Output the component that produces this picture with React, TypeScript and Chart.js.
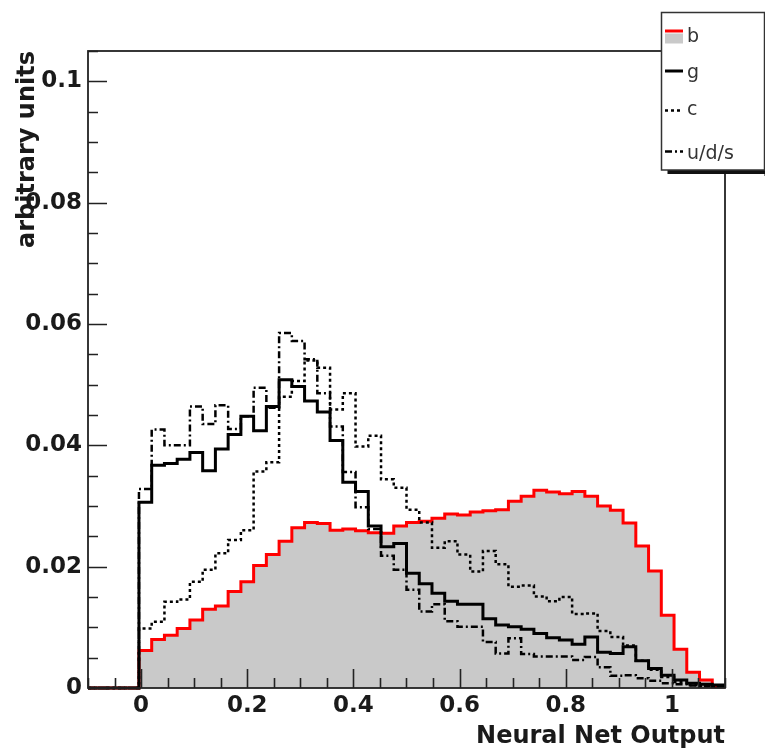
import React, { useEffect, useRef } from 'react';
import { Chart, registerables } from 'chart.js';

Chart.register(...registerables);

// Histogram binning: 50 bins on [-0.1, 1.1]
const X_LOW = -0.1;
const X_HIGH = 1.1;
const N_BINS = 50;
const binEdges = Array.from({ length: N_BINS + 1 }, (_, i) =>
  Number((X_LOW + (i * (X_HIGH - X_LOW)) / N_BINS).toFixed(4))
);

// Bin contents
const bValues = [
  0, 0, 0, 0,
  0.0062, 0.0080, 0.0087, 0.0098, 0.0112, 0.0130, 0.0135, 0.0159, 0.0175, 0.0202,
  0.0220, 0.0242, 0.0264, 0.0273, 0.0271, 0.0260, 0.0262, 0.0259, 0.0256, 0.0255,
  0.0267, 0.0273, 0.0275, 0.0280, 0.0287, 0.0285, 0.0290, 0.0292, 0.0294, 0.0308,
  0.0316, 0.0326, 0.0323, 0.0320, 0.0324, 0.0316, 0.0300, 0.0293, 0.0272, 0.0234,
  0.0193, 0.0120, 0.0064, 0.0026, 0.0013, 0.0002,
];
const gValues = [
  0, 0, 0, 0,
  0.0306, 0.0367, 0.0370, 0.0377, 0.0388, 0.0358, 0.0394, 0.0418, 0.0448, 0.0424,
  0.0464, 0.0508, 0.0497, 0.0473, 0.0455, 0.0408, 0.0339, 0.0324, 0.0267, 0.0233,
  0.0238, 0.0189, 0.0172, 0.0156, 0.0143, 0.0138, 0.0138, 0.0114, 0.0104, 0.0101,
  0.0097, 0.0090, 0.0083, 0.0079, 0.0072, 0.0084, 0.0059, 0.0057, 0.0068, 0.0045,
  0.0032, 0.0021, 0.0013, 0.0008, 0.0006, 0.0005,
];
const cValues = [
  0, 0, 0, 0,
  0.0098, 0.0109, 0.0142, 0.0146, 0.0175, 0.0195, 0.0222, 0.0244, 0.0260, 0.0357,
  0.0372, 0.0480, 0.0506, 0.0540, 0.0528, 0.0459, 0.0486, 0.0398, 0.0416, 0.0344,
  0.0330, 0.0294, 0.0273, 0.0231, 0.0242, 0.0220, 0.0192, 0.0226, 0.0204, 0.0167,
  0.0169, 0.0151, 0.0143, 0.0150, 0.0122, 0.0123, 0.0094, 0.0084, 0.0070, 0.0045,
  0.0030, 0.0018, 0.0010, 0.0005, 0.0003, 0.0002,
];
const udsValues = [
  0, 0, 0, 0,
  0.0328, 0.0426, 0.0400, 0.0400, 0.0464, 0.0435, 0.0466, 0.0427, 0.0448, 0.0495,
  0.0462, 0.0585, 0.0572, 0.0542, 0.0486, 0.0431, 0.0356, 0.0298, 0.0262, 0.0218,
  0.0195, 0.0162, 0.0126, 0.0138, 0.0110, 0.0101, 0.0101, 0.0076, 0.0057, 0.0082,
  0.0056, 0.0052, 0.0052, 0.0052, 0.0046, 0.0051, 0.0034, 0.0020, 0.0021, 0.0016,
  0.0012, 0.0008, 0.0006, 0.0004, 0.0003, 0.0002,
];

const xTickValues = [0, 0.2, 0.4, 0.6, 0.8, 1];
const xTickLabels = ['0', '0.2', '0.4', '0.6', '0.8', '1'];
const yTickValues = [0, 0.02, 0.04, 0.06, 0.08, 0.1];
const yTickLabels = ['0', '0.02', '0.04', '0.06', '0.08', '0.1'];
const Y_MAX = 0.105;
const legendLabels = ['b', 'g', 'c', 'u/d/s'];

const FONT = '"DejaVu Sans", "Liberation Sans", sans-serif';
const TEXT = '#1a1a1a';
const RED = '#ff0000';
const FILL = '#c9c9c9';
const C_DASH = [3, 3];
const UDS_DASH = [7, 3, 2, 3];

function histPoints(vals: number[]) {
  const pts = vals.map((v, i) => ({ x: binEdges[i], y: v }));
  pts.push({ x: binEdges[vals.length], y: vals[vals.length - 1] });
  return pts;
}

const frameTicksPlugin = {
  id: 'frameTicks',
  afterDatasetsDraw(chart: any) {
    const { ctx, chartArea: a, scales } = chart;
    const xs = scales.x;
    const ys = scales.y;
    ctx.save();
    ctx.strokeStyle = '#222';
    ctx.lineWidth = 1.6;
    ctx.beginPath();
    for (let i = -2; i <= 22; i++) {
      const px = Math.round(xs.getPixelForValue(i * 0.05)) + 0.5;
      const len = i % 4 === 0 ? 19 : 10;
      ctx.moveTo(px, a.bottom);
      ctx.lineTo(px, a.bottom - len);
    }
    for (let i = 0; i <= 21; i++) {
      const py = Math.round(ys.getPixelForValue(i * 0.005)) + 0.5;
      const len = i % 4 === 0 ? 19 : 10;
      ctx.moveTo(a.left, py);
      ctx.lineTo(a.left + len, py);
    }
    ctx.stroke();
    ctx.lineWidth = 1.8;
    ctx.strokeRect(a.left, a.top, a.right - a.left, a.bottom - a.top);
    ctx.restore();
  },
};

const legendPlugin = {
  id: 'rootLegend',
  afterDraw(chart: any) {
    const { ctx, chartArea: a } = chart;
    const bx = a.right - 63.5;
    const by = a.top - 38.5;
    const bw = 103;
    const bh = 157.5;
    ctx.save();
    // shadow
    ctx.fillStyle = '#111';
    ctx.fillRect(bx + 6, by + bh, bw, 4);
    ctx.fillRect(bx + bw, by + 6, 4, bh);
    ctx.fillStyle = '#ffffff';
    ctx.fillRect(bx, by, bw, bh);
    ctx.strokeStyle = '#333';
    ctx.lineWidth = 1.5;
    ctx.strokeRect(bx, by, bw, bh);

    const mx0 = bx + 3.5;
    const mx1 = bx + 21.5;
    const rows = [22.5, 58.5, 98, 139];
    const baselines = [29.5, 65.5, 102.5, 146.5];
    const styles = [
      { color: RED, width: 3, dash: [] as number[] },
      { color: '#000', width: 3, dash: [] as number[] },
      { color: '#000', width: 2.5, dash: C_DASH },
      { color: '#000', width: 2.5, dash: UDS_DASH },
    ];
    // b fill swatch
    ctx.fillStyle = FILL;
    ctx.fillRect(mx0, by + 21, mx1 - mx0, 10);
    styles.forEach((s, i) => {
      ctx.beginPath();
      ctx.setLineDash(s.dash);
      ctx.strokeStyle = s.color;
      ctx.lineWidth = s.width;
      const yy = by + (i === 0 ? 18.5 : rows[i]);
      ctx.moveTo(mx0, yy);
      ctx.lineTo(mx1, yy);
      ctx.stroke();
    });
    ctx.setLineDash([]);
    ctx.fillStyle = '#333';
    ctx.font = `19px ${FONT}`;
    ctx.textBaseline = 'alphabetic';
    ctx.textAlign = 'left';
    legendLabels.forEach((t, i) => {
      ctx.fillText(t, bx + 25.5, by + baselines[i]);
    });
    ctx.restore();
  },
};

export default function App() {
  const canvasRef = useRef<HTMLCanvasElement | null>(null);

  useEffect(() => {
    const canvas = canvasRef.current;
    if (!canvas) return;
    const common = {
      pointRadius: 0,
      pointHoverRadius: 0,
      stepped: 'before' as const,
      tension: 0,
      borderJoinStyle: 'miter' as const,
      borderCapStyle: 'butt' as const,
      clip: false as any,
    };
    const chart = new Chart(canvas, {
      type: 'line',
      data: {
        datasets: [
          { ...common, label: 'g', data: histPoints(gValues), borderColor: '#000', borderWidth: 3, fill: false },
          { ...common, label: 'c', data: histPoints(cValues), borderColor: '#000', borderWidth: 2.5, borderDash: C_DASH, fill: false },
          { ...common, label: 'u/d/s', data: histPoints(udsValues), borderColor: '#000', borderWidth: 2.5, borderDash: UDS_DASH, fill: false },
          { ...common, label: 'b', data: histPoints(bValues), borderColor: RED, borderWidth: 3, backgroundColor: FILL, fill: 'origin' },
        ],
      },
      options: {
        animation: false,
        responsive: false,
        maintainAspectRatio: false,
        devicePixelRatio: 1,
        events: [],
        layout: { padding: { left: 0, right: 40, top: 51, bottom: 0 } },
        plugins: {
          legend: { display: false },
          tooltip: { enabled: false },
        },
        scales: {
          x: {
            type: 'linear',
            min: X_LOW,
            max: X_HIGH,
            afterBuildTicks: (s: any) => {
              s.ticks = xTickValues.map((value) => ({ value }));
            },
            afterFit: (s: any) => {
              s.height = 61;
            },
            grid: { display: false, drawTicks: false },
            border: { display: false },
            ticks: {
              callback: (_v: any, i: number) => xTickLabels[i],
              font: { family: FONT, size: 23, weight: 'bold' },
              color: TEXT,
              padding: 4,
              maxRotation: 0,
              autoSkip: false,
            },
            title: {
              display: true,
              text: 'Neural Net Output',
              align: 'end',
              color: TEXT,
              font: { family: FONT, size: 24, weight: 'bold', lineHeight: 1 },
              padding: { top: 0, bottom: 0 },
            },
          },
          y: {
            type: 'linear',
            min: 0,
            max: Y_MAX,
            afterBuildTicks: (s: any) => {
              s.ticks = yTickValues.map((value) => ({ value }));
            },
            afterFit: (s: any) => {
              s.width = 88;
            },
            grid: { display: false, drawTicks: false },
            border: { display: false },
            ticks: {
              callback: (_v: any, i: number) => yTickLabels[i],
              font: { family: FONT, size: 23, weight: 'bold' },
              color: TEXT,
              padding: 6,
              autoSkip: false,
            },
            title: {
              display: true,
              text: 'arbitrary units',
              align: 'end',
              color: TEXT,
              font: { family: FONT, size: 24, weight: 'bold', lineHeight: 1 },
              padding: { top: 16, bottom: 0 },
            },
          },
        },
      } as any,
      plugins: [frameTicksPlugin, legendPlugin],
    });
    return () => chart.destroy();
  }, []);

  return (
    <div style={{ position: 'absolute', left: 0, top: 0, width: 765, height: 749, background: '#fff' }}>
      <canvas ref={canvasRef} width={765} height={749} style={{ display: 'block', width: 765, height: 749 }} />
    </div>
  );
}
